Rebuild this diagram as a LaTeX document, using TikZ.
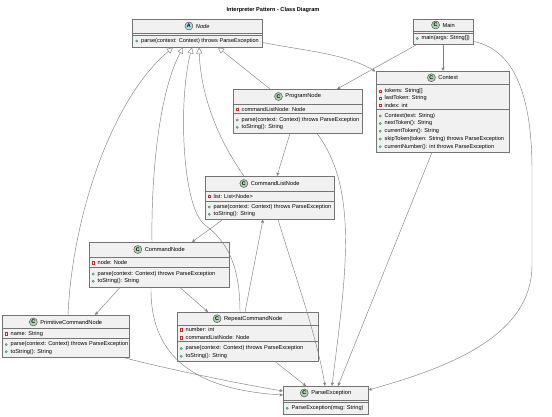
\documentclass[tikz,border=0pt]{standalone}
\usepackage{fontspec}
\setmainfont{Liberation Sans}
\usetikzlibrary{calc,arrows.meta}
\definecolor{boxfill}{HTML}{F1F1F1}
\definecolor{boxline}{HTML}{181818}
\definecolor{cgreen}{HTML}{ADD1B2}
\definecolor{acyan}{HTML}{A9DCDF}
\definecolor{privred}{HTML}{C82930}
\definecolor{pubgreen}{HTML}{84BE84}
\definecolor{pubedge}{HTML}{038048}
\tikzset{
  classbox/.style={draw=boxline!60, fill=boxfill, line width=0.45pt, inner sep=0pt, anchor=north west},
  sepline/.style={draw=boxline!60, line width=0.4pt},
  cname/.style={inner sep=0pt, font=\fontsize{5.7}{6.5}\selectfont},
  member/.style={inner sep=0pt, anchor=west, font=\fontsize{5.6}{6.5}\selectfont},
  titletext/.style={inner sep=0pt, font=\fontsize{5.6}{6.5}\selectfont\bfseries},
  stereoC/.style={circle, draw=boxline!80, fill=cgreen, line width=0.4pt, minimum size=8pt, inner sep=0pt, font=\fontsize{5.3}{6}\selectfont\bfseries},
  stereoA/.style={circle, draw=boxline!80, fill=acyan, line width=0.4pt, minimum size=8pt, inner sep=0pt, font=\fontsize{5.3}{6}\selectfont\bfseries},
  pubicon/.style={circle, fill=pubgreen, draw=pubedge, line width=0.15pt, minimum size=2.4pt, inner sep=0pt},
  privicon/.style={rectangle, draw=privred, fill=white, line width=0.4pt, minimum size=2.5pt, inner sep=0pt},
  conn/.style={draw=boxline!55, line width=0.45pt},
  inh/.style={conn, -{Triangle[open, length=6pt, width=6pt]}},
  assoc/.style={conn, -{Stealth[length=3.6pt, width=3.2pt, inset=1pt]}},
}
% id, left, top, right, bottom, header line y, separator y
\newcommand{\classframe}[7]{%
  \node[classbox, minimum width={#4pt-#2pt}, minimum height={#5pt-#3pt}] (#1) at (#2,#3) {};
  \draw[sepline] (#2,#6) -- (#4,#6);
  \draw[sepline] (#2,#7) -- (#4,#7);
}
% id, icon style, letter, name, offset from top
\newcommand{\classhead}[5]{%
  \node[cname] (#1-name) at ($(#1.north)+(5.5,#5)$) {#4};
  \node[#2] (#1-icon) at ($(#1-name.west)+(-6.8,0)$) {#3};
}
\newcommand{\pubmember}[4]{%
  \node[member] (#1) at (#2,#3) {#4};
  \node[pubicon] (#1-i) at ($(#1.west)+(-4.3,0)$) {};
}
\newcommand{\privmember}[4]{%
  \node[member] (#1) at (#2,#3) {#4};
  \node[privicon] (#1-i) at ($(#1.west)+(-4.3,0)$) {};
}
\begin{document}
\begin{tikzpicture}[x=1pt,y=-1pt]
\useasboundingbox (0,0) rectangle (552,416);
\node[titletext] (title) at (273,10) {Interpreter Pattern - Class Diagram};

% Node
\classframe{nodeA}{132}{19}{262}{47}{33}{35}
\classhead{nodeA}{stereoA}{A}{\itshape Node}{7}
\pubmember{nodeA-m1}{141}{41}{parse(context: Context) throws ParseException}

% Main
\classframe{main}{413}{19}{473}{44}{31}{33}
\classhead{main}{stereoC}{C}{Main}{6}
\pubmember{main-m1}{421.5}{38.5}{main(args: String[])}

% Context
\classframe{ctx}{376}{71}{509}{152}{84}{109.5}
\classhead{ctx}{stereoC}{C}{Context}{6.7}
\privmember{ctx-f1}{384.5}{91}{tokens: String[]}
\privmember{ctx-f2}{384.5}{98}{lastToken: String}
\privmember{ctx-f3}{384.5}{105}{index: int}
\pubmember{ctx-m1}{384.5}{116}{Context(text: String)}
\pubmember{ctx-m2}{384.5}{123.5}{nextToken(): String}
\pubmember{ctx-m3}{384.5}{131.2}{currentToken(): String}
\pubmember{ctx-m4}{384.5}{139}{skipToken(token: String) throws ParseException}
\pubmember{ctx-m5}{384.5}{146.7}{currentNumber(): int throws ParseException}

% ProgramNode
\classframe{prog}{233}{89}{362}{133}{104}{113.5}
\classhead{prog}{stereoC}{C}{ProgramNode}{7.5}
\privmember{prog-f1}{241.5}{109}{commandListNode: Node}
\pubmember{prog-m1}{241.5}{120}{parse(context: Context) throws ParseException}
\pubmember{prog-m2}{241.5}{127.3}{toString(): String}

% CommandListNode
\classframe{clist}{205}{176}{334}{219}{191}{201}
\classhead{clist}{stereoC}{C}{CommandListNode}{7.5}
\privmember{clist-f1}{213.5}{196}{list: List<Node>}
\pubmember{clist-m1}{213.5}{207}{parse(context: Context) throws ParseException}
\pubmember{clist-m2}{213.5}{214.3}{toString(): String}

% CommandNode
\classframe{cmd}{89}{242}{229}{287}{257}{267.5}
\classhead{cmd}{stereoC}{C}{CommandNode}{7.5}
\privmember{cmd-f1}{97.5}{262.7}{node: Node}
\pubmember{cmd-m1}{97.5}{274}{parse(context: Context) throws ParseException}
\pubmember{cmd-m2}{97.5}{281.3}{toString(): String}

% PrimitiveCommandNode
\classframe{prim}{2}{315}{129}{357}{328.5}{338.5}
\classhead{prim}{stereoC}{C}{PrimitiveCommandNode}{7}
\privmember{prim-f1}{10.5}{333.7}{name: String}
\pubmember{prim-m1}{10.5}{344.5}{parse(context: Context) throws ParseException}
\pubmember{prim-m2}{10.5}{351.7}{toString(): String}

% RepeatCommandNode
\classframe{rep}{177}{312}{318}{361}{325.5}{341.5}
\classhead{rep}{stereoC}{C}{RepeatCommandNode}{6.7}
\privmember{rep-f1}{185.5}{329.8}{number: int}
\privmember{rep-f2}{185.5}{337.5}{commandListNode: Node}
\pubmember{rep-m1}{185.5}{348.5}{parse(context: Context) throws ParseException}
\pubmember{rep-m2}{185.5}{356.3}{toString(): String}

% ParseException
\classframe{pex}{283}{386}{368}{414}{400}{402}
\classhead{pex}{stereoC}{C}{ParseException}{7}
\pubmember{pex-m1}{291.5}{408.3}{ParseException(msg: String)}

% ---- inheritance ----
\draw[inh] ($(prog.north west)+(37,0)$) -- ($(nodeA.south west)+(86,0)$);
\draw[inh] ($(clist.north west)+(39,0)$) .. controls +(-25,-35) and +(2,50) .. ($(nodeA.south west)+(67,0)$);
\coordinate (rbend) at (205,225);
\draw[inh] ($(rep.north west)+(63,0)$) .. controls +(0,-50) and +(20,15) .. (rbend)
  .. controls +(-23,-17) and +(-14,53) .. ($(nodeA.south west)+(60,0)$);
\draw[inh] ($(cmd.north west)+(63,0)$) .. controls +(-1,-72) and +(-23,43) .. ($(nodeA.south west)+(51,0)$);
\draw[inh] ($(prim.north west)+(66,0)$) .. controls +(4,-95) and +(-63,53) .. ($(nodeA.south west)+(41,0)$);

% ---- associations ----
\draw[assoc] ($(main.south west)+(4,0)$) -- ($(prog.north west)+(104,0)$);
\draw[assoc] ($(main.south west)+(30,0)$) -- ($(ctx.north west)+(67,0)$);
\draw[assoc] ($(nodeA.south east)+(0,-5)$) .. controls +(40,8) and +(-30,-18) .. ($(ctx.north west)+(-0.5,0.5)$);
\draw[assoc] ($(prog.south west)+(57,0)$) -- ($(clist.north west)+(72,0)$);
\draw[assoc] ($(clist.south west)+(18,0)$) -- ($(cmd.north west)+(103,0)$);
\draw[assoc] ($(cmd.south west)+(31,0)$) -- ($(prim.north west)+(93,0)$);
\draw[assoc] ($(cmd.south west)+(91,0)$) -- ($(rep.north west)+(31,0)$);
\draw[assoc] ($(rep.north west)+(68,0)$) -- ($(clist.south west)+(58,0)$);

% ---- to ParseException ----
\draw[assoc] ($(rep.south west)+(98,0)$) -- ($(pex.north west)+(23,0)$);
\draw[assoc] ($(clist.south west)+(73,0)$) .. controls +(15,50) and +(-8,-50) .. ($(pex.north west)+(42,0)$);
\draw[assoc] ($(prog.south west)+(84,0)$) .. controls +(43,57) and +(13,-106) .. ($(pex.north west)+(49,0)$);
\draw[assoc] ($(ctx.south west)+(56,0)$) -- ($(pex.north west)+(55,0)$);
\coordinate (mb1) at (532,170);
\coordinate (mb2) at (532,265);
\draw[assoc] ($(main.south east)+(0,-3)$) .. controls +(47,9) and +(0,-60) .. (mb1) -- (mb2)
  .. controls +(0,75) and +(70,-20) .. ($(pex.north east)+(0,4)$);
\draw[assoc] ($(cmd.south west)+(62,0)$) .. controls +(-1,73) and +(-83,-5) .. ($(pex.north west)+(0,9)$);
\draw[assoc] ($(prim.south east)+(-6,0)$) .. controls +(25,7) and +(-60,-10) .. ($(pex.north west)+(0,5)$);
\end{tikzpicture}
\end{document}
